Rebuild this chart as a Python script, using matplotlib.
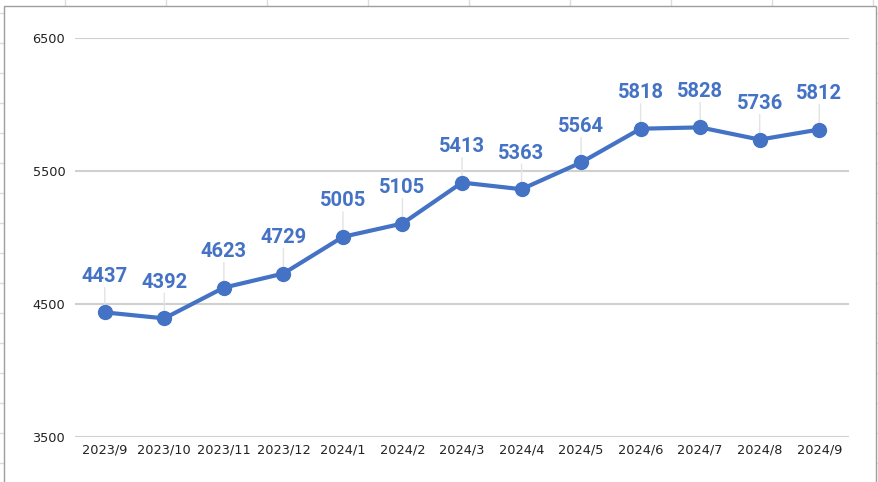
import numpy as np
import matplotlib.pyplot as plt
from matplotlib.lines import Line2D
from matplotlib.patches import Rectangle

months = ["2023/9", "2023/10", "2023/11", "2023/12", "2024/1", "2024/2", "2024/3",
          "2024/4", "2024/5", "2024/6", "2024/7", "2024/8", "2024/9"]
values = [4437, 4392, 4623, 4729, 5005, 5105, 5413, 5363, 5564, 5818, 5828, 5736, 5812]
yticks = [3500, 4500, 5500, 6500]

W, H = 879, 482
blue = "#4472C4"
fig = plt.figure(figsize=(W / 100, H / 100), dpi=100)

# spreadsheet cells behind the chart
for x in range(65, W, 101):
    fig.add_artist(Line2D([x / W, x / W], [0, 1], color="#dadce0", lw=1, zorder=-3))
for y in range(13, H, 30):
    fig.add_artist(Line2D([0, 1], [1 - y / H, 1 - y / H], color="#dadce0", lw=1, zorder=-3))
fig.add_artist(Rectangle((4 / W, -0.01), 872 / W, 1 - 6 / H + 0.01, facecolor="white",
                         edgecolor="#9e9e9e", lw=1, zorder=-2))

ax = fig.add_axes([75 / W, 1 - 437 / H, 774 / W, 399 / H])
ax.set_facecolor("none")
x = np.arange(len(months))
ax.plot(x, values, color=blue, lw=3, marker="o", ms=10, zorder=3, clip_on=False)

for xi, v in zip(x, values):
    ax.annotate(str(v), (xi, v), xytext=(0, 22), textcoords="offset points",
                ha="center", va="baseline", color=blue, fontsize=14.5,
                fontweight="bold", family="Roboto", annotation_clip=False)
    ax.annotate("", (xi, v), xytext=(0, 18), textcoords="offset points",
                arrowprops=dict(arrowstyle="-", color="#e3e3e3", lw=1,
                                shrinkA=0, shrinkB=5), zorder=2)

ax.set_xlim(-0.5, len(months) - 0.5)
ax.set_ylim(3500, 6500)
ax.set_yticks(yticks)
ax.set_xticks(x)
ax.set_xticklabels(months)
ax.tick_params(length=0, labelsize=9.3, colors="#222222")
ax.tick_params(axis="y", pad=7)
ax.tick_params(axis="x", pad=5)
ax.grid(axis="y", color="#d0d0d0", lw=1.5)
ax.set_axisbelow(True)
for s in ax.spines.values():
    s.set_visible(False)

plt.savefig("out.png", dpi=100)
